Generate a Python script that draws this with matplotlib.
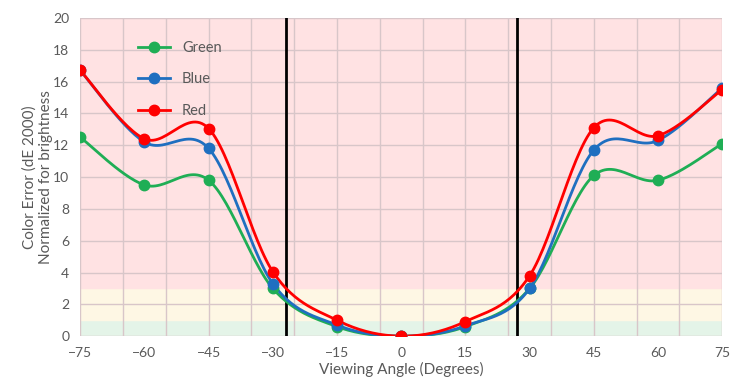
import matplotlib.pyplot as plt
from matplotlib.lines import Line2D
import numpy as np

angles = [-75, -60, -45, -30, -15, 0, 15, 30, 45, 60, 75]
green = [12.5, 9.5, 9.8, 3.0, 0.6, 0.0, 0.6, 3.0, 10.1, 9.8, 12.1]
blue = [16.7, 12.2, 11.8, 3.3, 0.7, 0.0, 0.65, 3.0, 11.7, 12.3, 15.6]
red = [16.7, 12.4, 13.05, 4.05, 1.0, 0.0, 0.92, 3.8, 13.1, 12.6, 15.5]
x_ticks = [-75, -60, -45, -30, -15, 0, 15, 30, 45, 60, 75]
y_ticks = list(range(0, 21, 2))
limit_lines = [-27, 27]

series = [("Green", green, "#1fae55"), ("Blue", blue, "#1f6fc0"), ("Red", red, "#ff0000")]


def smooth(xs, ys, n=30):
    # Excel-like smoothed line: cardinal spline drawn through the points
    xs = np.asarray(xs, float)
    ys = np.asarray(ys, float)
    px = np.concatenate([[xs[0]], xs, [xs[-1]]])
    py = np.concatenate([[ys[0]], ys, [ys[-1]]])
    out_x, out_y = [], []
    t = np.linspace(0, 1, n)
    for i in range(1, len(px) - 2):
        p0, p1, p2, p3 = np.array([px[i-1], py[i-1]]), np.array([px[i], py[i]]), \
            np.array([px[i+1], py[i+1]]), np.array([px[i+2], py[i+2]])
        m1 = (p2 - p0) * 0.5
        m2 = (p3 - p1) * 0.5
        h00 = 2*t**3 - 3*t**2 + 1
        h10 = t**3 - 2*t**2 + t
        h01 = -2*t**3 + 3*t**2
        h11 = t**3 - t**2
        pts = np.outer(h00, p1) + np.outer(h10, m1) + np.outer(h01, p2) + np.outer(h11, m2)
        out_x.extend(pts[:, 0])
        out_y.extend(pts[:, 1])
    return out_x, out_y


plt.rcParams['font.family'] = ['Lato', 'DejaVu Sans']

fig = plt.figure(figsize=(7.5, 3.9), dpi=100)
ax = fig.add_axes([0.107, 0.138, 0.856, 0.816])

ax.axhspan(0, 1, color="#e4f4e8", zorder=0)
ax.axhspan(1, 3, color="#fef7e4", zorder=0)
ax.axhspan(3, 20, color="#ffe2e3", zorder=0)

for gx in range(-75, 76, 10):
    ax.axvline(gx, color="#d8c6c9", lw=1, zorder=1)
for gy in y_ticks:
    ax.axhline(gy, color="#d8c6c9", lw=1, zorder=1)

for xv in limit_lines:
    ax.axvline(xv, color="black", lw=2, zorder=2)

handles = []
for name, vals, col in series:
    sx, sy = smooth(angles, vals)
    ax.plot(sx, sy, color=col, lw=2, zorder=3)
    ax.plot(angles, vals, 'o', color=col, ms=7.5, zorder=4, linestyle='none')
    handles.append(Line2D([], [], color=col, lw=2, marker='o', ms=7.5, label=name))

ax.set_xlim(-75, 75)
ax.set_ylim(0, 20)
ax.set_xticks(x_ticks)
ax.set_yticks(y_ticks)
ax.tick_params(length=0, labelsize=10, colors="#595959", pad=8)
for s in ax.spines.values():
    s.set_visible(False)

ax.set_xlabel("Viewing Angle (Degrees)", fontsize=11, color="#595959", labelpad=2)
ax.set_ylabel("Color Error (dE 2000)\nNormalized for brightness", fontsize=11,
              color="#595959")
ax.yaxis.set_label_coords(-0.043, 0.5)

leg = ax.legend(handles=handles, loc="upper left", bbox_to_anchor=(0.07, 0.97),
                frameon=False, fontsize=10.5, labelspacing=1.2, handlelength=2.2)
for t in leg.get_texts():
    t.set_color("#595959")

fig.savefig("out.png", dpi=100)
